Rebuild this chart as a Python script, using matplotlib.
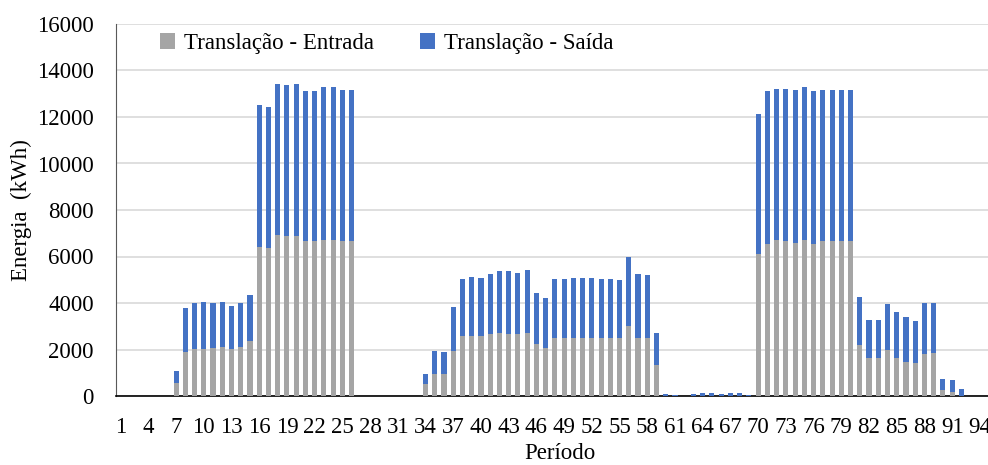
import numpy as np
import matplotlib
matplotlib.use("Agg")
import matplotlib.pyplot as plt

plt.rcParams['font.family'] = ['Liberation Serif', 'DejaVu Serif']

periodos = np.arange(1, 97)

# energia de translação (kWh) por período
entrada = [
    0, 0, 0, 0, 0, 0, 570, 1910, 2020, 2020,
    2080, 2110, 2020, 2110, 2350, 6420, 6370, 6930, 6880, 6880,
    6670, 6670, 6710, 6710, 6670, 6670, 0, 0, 0, 0,
    0, 0, 0, 530, 960, 960, 1940, 2570, 2570, 2570,
    2660, 2720, 2660, 2660, 2720, 2230, 2070, 2500, 2500, 2500,
    2500, 2500, 2500, 2500, 2500, 3000, 2500, 2500, 1340, 0,
    0, 0, 0, 0, 0, 0, 0, 0, 0, 6110,
    6540, 6710, 6670, 6580, 6710, 6540, 6670, 6670, 6670, 6670,
    2190, 1640, 1640, 1970, 1640, 1460, 1410, 1790, 1850, 260,
    170, 0, 0, 0, 0, 0,
]
saida = [
    0, 0, 0, 0, 0, 0, 500, 1860, 1980, 2020,
    1920, 1940, 1860, 1890, 1980, 6080, 6080, 6510, 6500, 6550,
    6450, 6450, 6570, 6570, 6500, 6500, 0, 0, 0, 0,
    0, 0, 0, 430, 990, 930, 1870, 2460, 2560, 2520,
    2590, 2640, 2700, 2640, 2700, 2190, 2130, 2530, 2530, 2590,
    2590, 2590, 2530, 2530, 2470, 2970, 2740, 2690, 1370, 100,
    60, 15, 100, 140, 140, 100, 140, 140, 60, 6010,
    6570, 6510, 6550, 6580, 6570, 6570, 6500, 6500, 6500, 6500,
    2080, 1630, 1630, 1980, 1960, 1920, 1820, 2210, 2150, 470,
    520, 290, 0, 0, 0, 0,
]

cor_entrada = '#A5A5A5'
cor_saida = '#4472C4'
fs = 16.5

fig = plt.figure(figsize=(9.88, 4.65), dpi=100)
# o gráfico original foi recortado à direita
ax = fig.add_axes([116 / 988, 69 / 465, 887 / 988, 372 / 465])

ax.bar(periodos, entrada, width=0.55, color=cor_entrada, label='Translação - Entrada', zorder=3)
ax.bar(periodos, saida, width=0.55, bottom=entrada, color=cor_saida, label='Translação - Saída', zorder=3)

ax.set_xlim(0.5, 96.5)
ax.set_ylim(0, 16000)
ax.set_yticks(np.arange(0, 16001, 2000))
ax.set_xticks(periodos[::3])
ax.set_xticklabels([str(p) for p in periodos[::3]])

ax.grid(axis='y', color='#D9D9D9', linewidth=1.2, zorder=0)
ax.tick_params(axis='both', length=0, labelsize=fs)
ax.tick_params(axis='x', pad=15)
ax.tick_params(axis='y', pad=16)

for lado in ['top', 'right']:
    ax.spines[lado].set_visible(False)
ax.spines['left'].set_color('#595959')
ax.spines['bottom'].set_color('black')
ax.spines['bottom'].set_linewidth(1.2)

ax.set_ylabel('Energia  (kWh)', fontsize=fs)
ax.yaxis.set_label_coords(-0.095, 0.5)
ax.set_xlabel('Período', fontsize=fs)
ax.xaxis.set_label_coords(0.5, -0.126)

ax.legend(loc='upper left', bbox_to_anchor=(137 / 988, 1 - 10 / 465), bbox_transform=fig.transFigure,
          ncol=2, frameon=False, fontsize=fs, handlelength=0.65, handleheight=0.65,
          handletextpad=0.4, columnspacing=2.0, borderaxespad=0.6)

fig.savefig('out.png', dpi=100)
